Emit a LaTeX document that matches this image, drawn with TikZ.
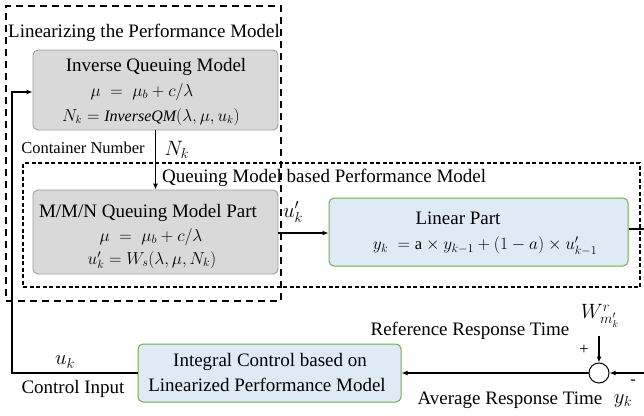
\documentclass[tikz,border=0pt]{standalone}
\usepackage{fontspec}
\setmainfont{Liberation Serif}
\usetikzlibrary{arrows.meta}
\definecolor{grayfill}{RGB}{217,217,217}
\definecolor{grayline}{RGB}{160,160,160}
\definecolor{bluefill}{RGB}{222,235,247}
\definecolor{greenline}{RGB}{112,173,71}
\begin{document}
\begin{tikzpicture}[x=1pt,y=-1pt,
  txt/.style={inner sep=0pt,font=\fontsize{19}{22}\selectfont},
  mtxt/.style={inner sep=0pt,font=\fontsize{17.5}{21}\selectfont},
  symtxt/.style={inner sep=0pt,font=\fontsize{20}{23}\selectfont},
  smalltxt/.style={inner sep=0pt,font=\fontsize{16.5}{19}\selectfont},
  graybox/.style={draw=grayline,fill=grayfill,rounded corners=5pt,line width=0.9pt,inner sep=0pt},
  bluebox/.style={draw=greenline,fill=bluefill,rounded corners=5pt,line width=1pt,inner sep=0pt},
  bigdash/.style={draw,line width=1.7pt,dash pattern=on 7pt off 5pt},
  smalldash/.style={draw,line width=1.2pt,dash pattern=on 4pt off 2.5pt},
  conn/.style={line width=1.2pt},
  arr/.style={line width=1.2pt,-{Latex[length=6pt,width=5pt]}}
]
\useasboundingbox (0,0) rectangle (644,415);
% outer dashed region
\node[bigdash,minimum width=275pt,minimum height=295pt,inner sep=0pt] (outer) at (143.5,153.5) {};
% inner dashed region
\node[smalldash,minimum width=617pt,minimum height=124pt,inner sep=0pt] (inner) at (331.5,225) {};
\node[txt] (outerlbl) at (144,33) {Linearizing the Performance Model};
\node[txt,anchor=west] (innerlbl) at (162,178) {Queuing Model based Performance Model};
% inverse queuing model
\node[graybox,minimum width=245pt,minimum height=80pt] (inv) at (155.5,90) {};
\node[txt] (invt) at (156,67) {Inverse Queuing Model};
\node[mtxt] (inva) at (142,92) {$\mu \;=\; \mu_b + c/\lambda$};
\node[txt,font=\fontsize{16}{19}\selectfont] (invb) at (151,117) {$N_k = \mathit{InverseQM}(\lambda,\mu,u_k)$};
% M/M/N
\node[graybox,minimum width=245pt,minimum height=84pt] (mmn) at (155.5,232) {};
\node[txt] (mmnt) at (148,213) {M/M/N Queuing Model Part};
\node[mtxt] (mmna) at (151,237) {$\mu \;=\; \mu_b + c/\lambda$};
\node[mtxt] (mmnb) at (152,260) {$u'_k = W_s(\lambda,\mu,N_k)$};
% linear part
\node[bluebox,minimum width=299pt,minimum height=68pt] (lin) at (478.5,232) {};
\node[txt] (lint) at (458,218) {Linear Part};
\node[txt,font=\fontsize{16.5}{19}\selectfont] (lina) at (485,246) {$y_k\; = \mathrm{a}\times y_{k-1} + (1-a)\times u'_{k-1}$};
% integral control
\node[bluebox,minimum width=263pt,minimum height=58pt] (ictl) at (269.5,373) {};
\node[txt] (icta) at (270,362) {Integral Control based on};
\node[txt] (ictb) at (267,385) {Linearized Performance Model};
% summing junction
\node[draw,circle,line width=1pt,minimum size=20pt,inner sep=0pt,fill=white] (sum) at (599,373) {};
% labels
\node[smalltxt] (cnlbl) at (83,148) {Container Number};
\node[symtxt] (nklbl) at (177,150) {$N_k$};
\node[symtxt] (uplbl) at (293,212) {$u'_k$};
\node[symtxt] (refw) at (600,316) {$W^{r}_{m_k'}$};
\node[txt] (reflbl) at (470,331) {Reference Response Time};
\node[smalltxt] (plus) at (584,350) {+};
\node[smalltxt] (minus) at (633,382) {-};
\node[txt] (avglbl) at (510,400) {Average Response Time};
\node[symtxt] (yklbl) at (623,401) {$y_k$};
\node[symtxt] (uklbl) at (65,362) {$u_k$};
\node[txt] (cilbl) at (73,389) {Control Input};
% coordinates
\coordinate (linout) at (644,229);
\coordinate (fbin) at (644,373);
\coordinate (fbl1) at (12,373);
\coordinate (fbl2) at (12,92);
\coordinate (wtop) at (599,336);
% connectors
\draw[arr] (inv.south) -- (mmn.north);
\draw[arr] (mmn.east |- 0,233) -- (lin.west |- 0,233);
\draw[conn] (lin.east |- linout) -- (linout);
\draw[arr] (fbin) -- (sum.east);
\draw[arr] (wtop) -- (sum.north);
\draw[arr] (sum.west) -- (ictl.east |- sum.west);
\draw[arr] (ictl.west) -- (fbl1) -- (fbl2) -- (inv.west |- fbl2);
\end{tikzpicture}
\end{document}
